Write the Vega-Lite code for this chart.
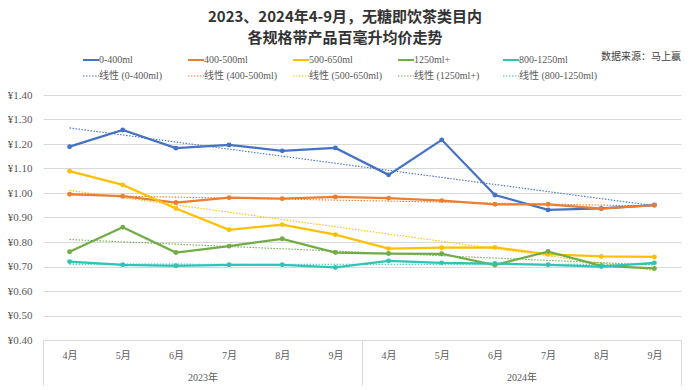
{
  "$schema": "https://vega.github.io/schema/vega-lite/v6.json",
  "width": 638,
  "height": 245,
  "autosize": {"type": "none"},
  "padding": {"left": 43, "top": 95, "right": 9, "bottom": 50},
  "background": "white",
  "title": {
    "text": ["2023、2024年4-9月，无糖即饮茶类目内", "各规格带产品百毫升均价走势"],
    "anchor": "middle",
    "frame": "group",
    "dx": -17,
    "offset": 6,
    "fontSize": 15,
    "lineHeight": 21,
    "font": "Noto Sans CJK SC",
    "fontWeight": "bold",
    "color": "#333333"
  },
  "config": {
    "view": {"stroke": null},
    "axis": {"labelFont": "Liberation Serif, Noto Sans CJK SC", "labelColor": "#595959"}
  },
  "datasets": {
    "prices": [
      {"size": "0-400ml", "trend": "线性 (0-400ml)", "idx": 1, "year": "2023年", "month": "4月", "price": 1.189},
      {"size": "0-400ml", "trend": "线性 (0-400ml)", "idx": 2, "year": "2023年", "month": "5月", "price": 1.257},
      {"size": "0-400ml", "trend": "线性 (0-400ml)", "idx": 3, "year": "2023年", "month": "6月", "price": 1.183},
      {"size": "0-400ml", "trend": "线性 (0-400ml)", "idx": 4, "year": "2023年", "month": "7月", "price": 1.196},
      {"size": "0-400ml", "trend": "线性 (0-400ml)", "idx": 5, "year": "2023年", "month": "8月", "price": 1.172},
      {"size": "0-400ml", "trend": "线性 (0-400ml)", "idx": 6, "year": "2023年", "month": "9月", "price": 1.184},
      {"size": "0-400ml", "trend": "线性 (0-400ml)", "idx": 7, "year": "2024年", "month": "4月", "price": 1.074},
      {"size": "0-400ml", "trend": "线性 (0-400ml)", "idx": 8, "year": "2024年", "month": "5月", "price": 1.217},
      {"size": "0-400ml", "trend": "线性 (0-400ml)", "idx": 9, "year": "2024年", "month": "6月", "price": 0.992},
      {"size": "0-400ml", "trend": "线性 (0-400ml)", "idx": 10, "year": "2024年", "month": "7月", "price": 0.931},
      {"size": "0-400ml", "trend": "线性 (0-400ml)", "idx": 11, "year": "2024年", "month": "8月", "price": 0.937},
      {"size": "0-400ml", "trend": "线性 (0-400ml)", "idx": 12, "year": "2024年", "month": "9月", "price": 0.951},

      {"size": "400-500ml", "trend": "线性 (400-500ml)", "idx": 1, "year": "2023年", "month": "4月", "price": 0.995},
      {"size": "400-500ml", "trend": "线性 (400-500ml)", "idx": 2, "year": "2023年", "month": "5月", "price": 0.987},
      {"size": "400-500ml", "trend": "线性 (400-500ml)", "idx": 3, "year": "2023年", "month": "6月", "price": 0.961},
      {"size": "400-500ml", "trend": "线性 (400-500ml)", "idx": 4, "year": "2023年", "month": "7月", "price": 0.981},
      {"size": "400-500ml", "trend": "线性 (400-500ml)", "idx": 5, "year": "2023年", "month": "8月", "price": 0.977},
      {"size": "400-500ml", "trend": "线性 (400-500ml)", "idx": 6, "year": "2023年", "month": "9月", "price": 0.984},
      {"size": "400-500ml", "trend": "线性 (400-500ml)", "idx": 7, "year": "2024年", "month": "4月", "price": 0.979},
      {"size": "400-500ml", "trend": "线性 (400-500ml)", "idx": 8, "year": "2024年", "month": "5月", "price": 0.969},
      {"size": "400-500ml", "trend": "线性 (400-500ml)", "idx": 9, "year": "2024年", "month": "6月", "price": 0.954},
      {"size": "400-500ml", "trend": "线性 (400-500ml)", "idx": 10, "year": "2024年", "month": "7月", "price": 0.954},
      {"size": "400-500ml", "trend": "线性 (400-500ml)", "idx": 11, "year": "2024年", "month": "8月", "price": 0.936},
      {"size": "400-500ml", "trend": "线性 (400-500ml)", "idx": 12, "year": "2024年", "month": "9月", "price": 0.950},

      {"size": "500-650ml", "trend": "线性 (500-650ml)", "idx": 1, "year": "2023年", "month": "4月", "price": 1.089},
      {"size": "500-650ml", "trend": "线性 (500-650ml)", "idx": 2, "year": "2023年", "month": "5月", "price": 1.033},
      {"size": "500-650ml", "trend": "线性 (500-650ml)", "idx": 3, "year": "2023年", "month": "6月", "price": 0.937},
      {"size": "500-650ml", "trend": "线性 (500-650ml)", "idx": 4, "year": "2023年", "month": "7月", "price": 0.850},
      {"size": "500-650ml", "trend": "线性 (500-650ml)", "idx": 5, "year": "2023年", "month": "8月", "price": 0.871},
      {"size": "500-650ml", "trend": "线性 (500-650ml)", "idx": 6, "year": "2023年", "month": "9月", "price": 0.830},
      {"size": "500-650ml", "trend": "线性 (500-650ml)", "idx": 7, "year": "2024年", "month": "4月", "price": 0.773},
      {"size": "500-650ml", "trend": "线性 (500-650ml)", "idx": 8, "year": "2024年", "month": "5月", "price": 0.777},
      {"size": "500-650ml", "trend": "线性 (500-650ml)", "idx": 9, "year": "2024年", "month": "6月", "price": 0.778},
      {"size": "500-650ml", "trend": "线性 (500-650ml)", "idx": 10, "year": "2024年", "month": "7月", "price": 0.750},
      {"size": "500-650ml", "trend": "线性 (500-650ml)", "idx": 11, "year": "2024年", "month": "8月", "price": 0.741},
      {"size": "500-650ml", "trend": "线性 (500-650ml)", "idx": 12, "year": "2024年", "month": "9月", "price": 0.739},

      {"size": "1250ml+", "trend": "线性 (1250ml+)", "idx": 1, "year": "2023年", "month": "4月", "price": 0.760},
      {"size": "1250ml+", "trend": "线性 (1250ml+)", "idx": 2, "year": "2023年", "month": "5月", "price": 0.860},
      {"size": "1250ml+", "trend": "线性 (1250ml+)", "idx": 3, "year": "2023年", "month": "6月", "price": 0.757},
      {"size": "1250ml+", "trend": "线性 (1250ml+)", "idx": 4, "year": "2023年", "month": "7月", "price": 0.783},
      {"size": "1250ml+", "trend": "线性 (1250ml+)", "idx": 5, "year": "2023年", "month": "8月", "price": 0.813},
      {"size": "1250ml+", "trend": "线性 (1250ml+)", "idx": 6, "year": "2023年", "month": "9月", "price": 0.757},
      {"size": "1250ml+", "trend": "线性 (1250ml+)", "idx": 7, "year": "2024年", "month": "4月", "price": 0.753},
      {"size": "1250ml+", "trend": "线性 (1250ml+)", "idx": 8, "year": "2024年", "month": "5月", "price": 0.752},
      {"size": "1250ml+", "trend": "线性 (1250ml+)", "idx": 9, "year": "2024年", "month": "6月", "price": 0.706},
      {"size": "1250ml+", "trend": "线性 (1250ml+)", "idx": 10, "year": "2024年", "month": "7月", "price": 0.761},
      {"size": "1250ml+", "trend": "线性 (1250ml+)", "idx": 11, "year": "2024年", "month": "8月", "price": 0.703},
      {"size": "1250ml+", "trend": "线性 (1250ml+)", "idx": 12, "year": "2024年", "month": "9月", "price": 0.692},

      {"size": "800-1250ml", "trend": "线性 (800-1250ml)", "idx": 1, "year": "2023年", "month": "4月", "price": 0.720},
      {"size": "800-1250ml", "trend": "线性 (800-1250ml)", "idx": 2, "year": "2023年", "month": "5月", "price": 0.707},
      {"size": "800-1250ml", "trend": "线性 (800-1250ml)", "idx": 3, "year": "2023年", "month": "6月", "price": 0.703},
      {"size": "800-1250ml", "trend": "线性 (800-1250ml)", "idx": 4, "year": "2023年", "month": "7月", "price": 0.707},
      {"size": "800-1250ml", "trend": "线性 (800-1250ml)", "idx": 5, "year": "2023年", "month": "8月", "price": 0.707},
      {"size": "800-1250ml", "trend": "线性 (800-1250ml)", "idx": 6, "year": "2023年", "month": "9月", "price": 0.696},
      {"size": "800-1250ml", "trend": "线性 (800-1250ml)", "idx": 7, "year": "2024年", "month": "4月", "price": 0.723},
      {"size": "800-1250ml", "trend": "线性 (800-1250ml)", "idx": 8, "year": "2024年", "month": "5月", "price": 0.715},
      {"size": "800-1250ml", "trend": "线性 (800-1250ml)", "idx": 9, "year": "2024年", "month": "6月", "price": 0.712},
      {"size": "800-1250ml", "trend": "线性 (800-1250ml)", "idx": 10, "year": "2024年", "month": "7月", "price": 0.707},
      {"size": "800-1250ml", "trend": "线性 (800-1250ml)", "idx": 11, "year": "2024年", "month": "8月", "price": 0.700},
      {"size": "800-1250ml", "trend": "线性 (800-1250ml)", "idx": 12, "year": "2024年", "month": "9月", "price": 0.715}
    ],
    "notes": [
      {"source": "数据来源：马上赢", "idx": 12.5, "price": 1.555}
    ]
  },
  "resolve": {"axis": {"x": "independent"}},
  "layer": [
    {
      "data": {"name": "prices"},
      "transform": [{"regression": "price", "on": "idx", "groupby": ["trend"]}],
      "mark": {"type": "line", "strokeWidth": 1.1, "strokeDash": [1.5, 1.5]},
      "encoding": {
        "x": {
          "field": "idx", "type": "quantitative",
          "scale": {"domain": [0.5, 12.5], "nice": false, "zero": false},
          "axis": {
            "orient": "bottom",
            "values": [1, 2, 3, 4, 5, 6, 7, 8, 9, 10, 11, 12],
            "labelExpr": "(((datum.value - 1) % 6) + 4) + '月'",
            "ticks": false, "domain": true, "domainColor": "#d9d9d9", "grid": false,
            "title": null, "labelPadding": 10, "labelFontSize": 10,
            "labelFlush": false, "labelOverlap": false
          }
        },
        "y": {
          "field": "price", "type": "quantitative", "title": null,
          "scale": {"domain": [0.4, 1.4], "nice": false, "zero": false},
          "axis": {
            "values": [0.4, 0.5, 0.6, 0.7, 0.8, 0.9, 1.0, 1.1, 1.2, 1.3, 1.4],
            "labelExpr": "'¥' + format(datum.value, '.2f')",
            "domain": false, "ticks": false, "grid": true, "gridColor": "#d9d9d9",
            "labelPadding": 11, "labelFontSize": 11, "title": null, "labelOverlap": false
          }
        },
        "color": {"field": "trend", "type": "nominal"}
      }
    },
    {
      "data": {"name": "prices"},
      "mark": {"type": "line", "strokeWidth": 2.25},
      "encoding": {
        "x": {
          "field": "idx", "type": "quantitative",
          "scale": {"domain": [0.5, 12.5], "nice": false, "zero": false},
          "axis": {
            "orient": "bottom",
            "values": [0.5, 3.5, 6.5, 9.5, 12.5],
            "ticks": true, "tickSize": 45, "tickColor": "#d9d9d9", "tickWidth": 1,
            "tickOpacity": {"condition": {"test": "datum.value == 3.5 || datum.value == 9.5", "value": 0}, "value": 1},
            "labelExpr": "datum.value == 3.5 ? '2023年' : (datum.value == 9.5 ? '2024年' : '')",
            "labelPadding": -13, "labelFontSize": 10,
            "domain": false, "grid": false, "title": null,
            "labelFlush": false, "labelOverlap": false
          }
        },
        "y": {
          "field": "price", "type": "quantitative", "title": null,
          "scale": {"domain": [0.4, 1.4], "nice": false, "zero": false},
          "axis": {
            "values": [0.4, 0.5, 0.6, 0.7, 0.8, 0.9, 1.0, 1.1, 1.2, 1.3, 1.4],
            "labelExpr": "'¥' + format(datum.value, '.2f')",
            "domain": false, "ticks": false, "grid": true, "gridColor": "#d9d9d9",
            "labelPadding": 11, "labelFontSize": 11, "title": null, "labelOverlap": false
          }
        },
        "color": {
          "field": "size", "type": "nominal",
          "scale": {
            "domain": ["0-400ml", "400-500ml", "500-650ml", "1250ml+", "800-1250ml",
                       "线性 (0-400ml)", "线性 (400-500ml)", "线性 (500-650ml)", "线性 (1250ml+)", "线性 (800-1250ml)"],
            "range": ["#4472C4", "#ED7D31", "#FFC000", "#70AD47", "#2EC4B6",
                      "#4472C4", "#ED7D31", "#FFC000", "#70AD47", "#2EC4B6"]
          },
          "legend": {
            "title": null,
            "orient": "none", "legendX": 43, "legendY": -40,
            "direction": "horizontal", "columns": 5, "gridAlign": "all",
            "symbolType": "stroke", "symbolSize": 256, "symbolStrokeWidth": 2,
            "labelFont": "Liberation Serif, Noto Sans CJK SC", "labelFontSize": 10,
            "labelColor": "#595959", "labelOffset": 3,
            "columnPadding": 6, "rowPadding": 6,
            "encode": {
              "symbols": {
                "update": {
                  "strokeDash": {"signal": "indexof(datum.value + '', '线性') == 0 ? [1.5, 1.5] : [1, 0]"},
                  "strokeWidth": {"signal": "indexof(datum.value + '', '线性') == 0 ? 1 : 2"}
                }
              }
            }
          }
        }
      }
    },
    {
      "data": {"name": "prices"},
      "mark": {"type": "point", "filled": true, "size": 24, "opacity": 1},
      "encoding": {
        "x": {"field": "idx", "type": "quantitative", "axis": null,
              "scale": {"domain": [0.5, 12.5], "nice": false, "zero": false}},
        "y": {
          "field": "price", "type": "quantitative", "title": null,
          "axis": {
            "values": [0.4, 0.5, 0.6, 0.7, 0.8, 0.9, 1.0, 1.1, 1.2, 1.3, 1.4],
            "labelExpr": "'¥' + format(datum.value, '.2f')",
            "domain": false, "ticks": false, "grid": true, "gridColor": "#d9d9d9",
            "labelPadding": 11, "labelFontSize": 11, "title": null, "labelOverlap": false
          }
        },
        "color": {"field": "size", "type": "nominal"}
      }
    },
    {
      "data": {"name": "notes"},
      "mark": {"type": "text", "align": "right", "baseline": "middle",
               "fontSize": 10, "font": "Noto Sans CJK SC", "color": "#404040"},
      "encoding": {
        "x": {"field": "idx", "type": "quantitative", "axis": null},
        "y": {
          "field": "price", "type": "quantitative", "title": null,
          "axis": {
            "values": [0.4, 0.5, 0.6, 0.7, 0.8, 0.9, 1.0, 1.1, 1.2, 1.3, 1.4],
            "labelExpr": "'¥' + format(datum.value, '.2f')",
            "domain": false, "ticks": false, "grid": true, "gridColor": "#d9d9d9",
            "labelPadding": 11, "labelFontSize": 11, "title": null, "labelOverlap": false
          }
        },
        "text": {"field": "source"}
      }
    }
  ]
}
